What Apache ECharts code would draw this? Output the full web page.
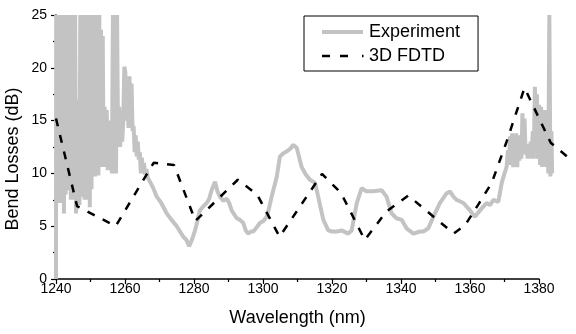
<!DOCTYPE html>
<html>
<head>
<meta charset="utf-8">
<script src="https://cdn.jsdelivr.net/npm/echarts@6/dist/echarts.min.js"></script>
<style>
html,body{margin:0;padding:0;background:#fff;}
#chart{width:576px;height:334px;}
</style>
</head>
<body>
<div id="chart"></div>
<script>
// ---- Data ----
const xTickValues = [1240, 1260, 1280, 1300, 1320, 1340, 1360, 1380];
const yTickValues = [0, 5, 10, 15, 20, 25];
const dataRangeMaxX = 1390; // the curves run a little past the last tick

const fdtdWavelength = [1240, 1246.1, 1257.3, 1268.3, 1274.2, 1280.4, 1292.7, 1298.3, 1304.8, 1317.1, 1322.6, 1329.5, 1335.8, 1342.1, 1355.3, 1358.6, 1362.3, 1366.3, 1370.6, 1375.8, 1383.4, 1389.6];
const fdtdLoss       = [15.2, 6.9, 5.0, 11.0, 10.8, 5.5, 9.4, 8.0, 4.0, 9.95, 8.15, 3.7, 6.4, 7.9, 4.3, 5.1, 7.0, 9.1, 13.0, 18.1, 12.9, 11.2];

const expWavelength = [
 1240.0,1240.05,1240.3,1240.55,1240.8,1241.05,1241.3,1241.55,1241.8,1242.05,1242.3,1242.55,1242.8,1243.05,1243.3,1243.55,1243.8,1244.05,1244.3,1244.55,
 1244.8,1245.05,1245.3,1245.55,1245.8,1246.05,1246.3,1246.55,1246.8,1247.05,1247.3,1247.55,1247.8,1248.05,1248.3,1248.55,1248.8,1249.05,1249.3,1249.55,
 1249.8,1250.05,1250.3,1250.55,1250.8,1251.05,1251.3,1251.55,1251.8,1252.05,1252.3,1252.55,1252.8,1253.05,1253.3,1253.55,1253.8,
 1254.1,1254.4,1254.7,1255.0,1255.3,1255.6,1255.9,1256.2,1256.5,1256.8,1257.1,1257.4,1257.7,1258.0,1258.3,1258.6,1258.9,1259.2,1259.5,
 1259.8,1260.1,1260.4,1260.7,1261.0,1261.3,1261.6,1261.9,1262.2,1262.5,1262.8,1263.1,1263.4,
 1263.7,1264.0,1264.3,1264.6,1264.9,1265.2,1265.5,1265.8,1266.2,1266.6,1267.0,
 1268.2,1269.2,1270.5,1272.1,1273.5,1275.0,1276.9,1277.8,1278.6,1279.5,1280.3,1281.0,1281.7,1282.5,1283.7,1284.4,1285.1,1286.1,1286.8,1287.5,
 1288.5,1289.5,1290.2,1290.9,1292.4,1293.3,1294.3,1295.0,1295.7,1296.5,1297.2,1298.2,1299.1,1300.1,1301.1,1301.8,1302.5,1303.3,1304.0,1304.9,
 1305.9,1306.9,1307.8,1308.8,1309.8,1310.5,1311.2,1312.4,1313.6,1315.1,1316.0,1316.8,1317.5,1318.9,1320.0,1321.3,1322.8,1324.7,1325.7,1326.5,
 1327.2,1328.6,1330.0,1332.0,1334.4,1335.8,1337.3,1338.7,1340.2,1341.6,1343.6,1345.5,1346.5,1347.9,1349.4,1351.3,1353.2,1354.2,1355.2,1356.1,
 1358.1,1360.0,1361.4,1362.9,1364.8,1365.8,1366.8,1368.2,1369.2,1370.0,1370.6,
 1371.0,1371.3,1371.6,1371.9,1372.2,1372.5,1372.8,1373.1,1373.4,1373.7,1374.0,1374.3,1374.6,1374.9,1375.2,1375.5,1375.8,1376.1,1376.4,1376.7,
 1377.0,1377.3,1377.6,1377.9,1378.2,1378.5,1378.8,1379.1,1379.4,1379.7,1380.0,1380.3,1380.6,1380.9,1381.2,1381.5,1381.8,1382.1,1382.4,1382.7,
 1383.0,1383.3,1383.6,1383.8
];
const expLoss = [
 0,25,7.2,25,8,25,7.2,25,10,25,6.2,25,8,25,8.4,25,10,25,7.5,25,
 9,25,7.5,25,6.2,17,9,17,7,25,7.8,25,9,25,7.5,22.9,8,25,7.5,25,
 6.8,22.6,8.5,25,9.7,25,9.7,25,10,25,9.8,25,10.6,23.6,10.6,23,10.6,
 16.3,10.6,16,10.3,15,10.3,15,10,25,10,25,10,25,12.5,16.3,12.5,16,13,15,
 20.1,19.6,15,18.8,14.3,19.2,14.5,18.5,14,14.5,12,13.6,11.6,
 13,11.3,12,10,11.5,10,11,9.9,10.4,9.6,9.5,
 8.6,7.8,7.2,6.2,5.6,5.0,4.0,3.7,3.1,3.8,4.6,5.5,6.5,6.8,7.2,7.6,8.4,9.2,8.3,7.8,
 7.4,7.6,7.2,6.5,5.75,5.6,5.3,4.6,4.3,4.5,4.5,4.9,5.3,5.5,5.9,6.8,7.8,8.8,9.7,11.6,
 11.9,12.1,12.3,12.7,12.4,11.5,10.6,9.9,9.4,9.1,7.8,6.6,5.6,4.6,4.5,4.5,4.6,4.3,4.6,6.0,
 7.2,8.6,8.3,8.3,8.4,7.8,6.2,5.75,5.6,4.8,4.3,4.5,4.5,4.8,5.9,7.2,8.1,8.3,7.8,7.5,
 7.2,6.5,5.9,6.5,7.2,7.0,7.5,7.3,9.1,10,10.6,
 12.2,10.8,13.5,11,13.8,10.6,13.5,11,13.8,10.6,13.2,11.2,13.6,11.4,15.7,11.8,15.2,12,12.6,11.4,
 12.8,11.4,13,11.8,14,11.4,18.2,12,17.5,11.4,16.5,10.8,16.3,10.6,15.5,10.8,16,10.6,14,10,
 25,9.7,14,10
];

const seriesNames = ['Experiment', '3D FDTD'];
const xAxisTitle = 'Wavelength (nm)';
const yAxisTitle = 'Bend Losses (dB)';

const FONT = '"Liberation Sans", Arial, Helvetica, sans-serif';

const chart = echarts.init(document.getElementById('chart'), null, {renderer: 'canvas'});

// plot frame (pixels)
const plotLeft = 56, plotTop = 15, plotWidth = 483, plotHeight = 264;
const xMin = xTickValues[0], xMax = xTickValues[xTickValues.length - 1];
const dataGridWidth = plotWidth * (dataRangeMaxX - xMin) / (xMax - xMin);

const axisCommon = {
  axisLine: {show: true, lineStyle: {color: '#000', width: 1.5}},
  axisTick: {show: true, inside: false, length: 5, lineStyle: {color: '#000', width: 1.2}},
  minorTick: {show: true, splitNumber: 2, length: 3, lineStyle: {color: '#000', width: 1.2}},
  splitLine: {show: false},
  minorSplitLine: {show: false}
};
const hiddenAxis = {
  show: false,
  axisLine: {show: false}, axisTick: {show: false}, axisLabel: {show: false},
  splitLine: {show: false}
};

// legend icons: transparent bounding box 42x18 with the visible strokes inside
const expIcon  = 'path://M0,0M42,18M0,7L41,7L41,11L0,11Z';
const fdtdIcon = 'path://M0,0M42,18M0,7.75L8,7.75L8,10.25L0,10.25Z M18,7.75L26,7.75L26,10.25L18,10.25Z M40,7.75L41.5,7.75L41.5,10.25L40,10.25Z';

chart.setOption({
  animation: false,
  backgroundColor: '#fff',
  textStyle: {fontFamily: FONT},
  grid: [
    {left: plotLeft, top: plotTop, width: plotWidth, height: plotHeight, containLabel: false},
    {left: plotLeft, top: plotTop, width: dataGridWidth, height: plotHeight, containLabel: false}
  ],
  xAxis: [
    Object.assign({
      gridIndex: 0,
      type: 'value',
      min: xMin,
      max: xMax,
      interval: xTickValues[1] - xTickValues[0],
      axisLabel: {color: '#000', fontSize: 14, fontFamily: FONT, margin: 3, formatter: v => String(v)},
      name: xAxisTitle,
      nameLocation: 'middle',
      nameGap: 30,
      nameTextStyle: {color: '#000', fontSize: 18, fontFamily: FONT}
    }, axisCommon),
    Object.assign({gridIndex: 1, type: 'value', min: xMin, max: dataRangeMaxX}, hiddenAxis)
  ],
  yAxis: [
    Object.assign({
      gridIndex: 0,
      type: 'value',
      min: yTickValues[0],
      max: yTickValues[yTickValues.length - 1],
      interval: yTickValues[1] - yTickValues[0],
      axisLabel: {color: '#000', fontSize: 14, fontFamily: FONT, margin: 9}
    }, axisCommon),
    Object.assign({gridIndex: 1, type: 'value', min: yTickValues[0], max: yTickValues[yTickValues.length - 1]}, hiddenAxis)
  ],
  legend: {
    orient: 'vertical',
    left: 304,
    top: 16,
    padding: [7, 18, 6, 18],
    itemGap: 6,
    itemWidth: 42,
    itemHeight: 18,
    borderColor: '#000',
    borderWidth: 1,
    borderRadius: 0,
    backgroundColor: '#fff',
    textStyle: {color: '#000', fontSize: 18, fontFamily: FONT, lineHeight: 18},
    data: [
      {name: seriesNames[0], icon: expIcon},
      {name: seriesNames[1], icon: fdtdIcon}
    ]
  },
  graphic: [{
    type: 'text',
    x: 13,
    y: 159,
    rotation: Math.PI / 2,
    style: {
      text: yAxisTitle,
      font: '18px ' + FONT,
      fill: '#000',
      align: 'center',
      verticalAlign: 'middle'
    }
  }],
  series: [
    {
      name: seriesNames[0],
      type: 'line',
      xAxisIndex: 1,
      yAxisIndex: 1,
      symbol: 'none',
      clip: false,
      data: expWavelength.map((x, i) => [x, expLoss[i]]),
      lineStyle: {color: '#c3c3c3', width: 4, join: 'bevel'},
      itemStyle: {color: '#c3c3c3'},
      z: 2
    },
    {
      name: seriesNames[1],
      type: 'line',
      xAxisIndex: 1,
      yAxisIndex: 1,
      symbol: 'none',
      clip: false,
      data: fdtdWavelength.map((x, i) => [x, fdtdLoss[i]]),
      lineStyle: {color: '#000', width: 2.5, type: [8, 9]},
      itemStyle: {color: '#000'},
      z: 3
    }
  ]
});
</script>
</body>
</html>
